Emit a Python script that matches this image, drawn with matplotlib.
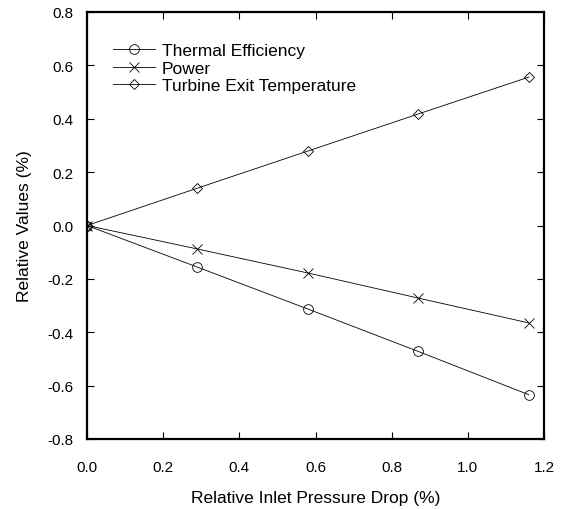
"""
Relative changes versus relative inlet pressure drop.
"""
import matplotlib
matplotlib.use("Agg")
from matplotlib import pyplot as plt

# Data
pressure_drop = [0.0, 0.29, 0.58, 0.87, 1.16]
thermal_efficiency = [0.0, -0.156, -0.313, -0.472, -0.634]
power = [0.0, -0.088, -0.178, -0.272, -0.365]
exit_temperature = [0.0, 0.14, 0.279, 0.418, 0.556]

x_ticks = [0.0, 0.2, 0.4, 0.6, 0.8, 1.0, 1.2]
y_ticks = [0.8, 0.6, 0.4, 0.2, 0.0, -0.2, -0.4, -0.6, -0.8]

plt.rcParams['font.family'] = ['Liberation Sans', 'DejaVu Sans']

fig = plt.figure(figsize=(5.67, 5.10), dpi=100)
ax = fig.add_axes([87 / 567, 1 - 440 / 510, (544 - 87) / 567, (440 - 13) / 510])

line_kw = dict(color='black', linewidth=0.6, markersize=7, markerfacecolor='none',
               markeredgewidth=0.6)
ax.plot(pressure_drop, thermal_efficiency, marker='o', label='Thermal Efficiency', **line_kw)
ax.plot(pressure_drop, power, marker='x', label='Power', **line_kw)
ax.plot(pressure_drop, exit_temperature, marker='D', label='Turbine Exit Temperature',
        **dict(line_kw, markersize=5.5))

ax.set_xlim(0, 1.2)
ax.set_ylim(-0.8, 0.8)
ax.set_xticks(x_ticks)
ax.set_xticklabels([f"{v:.1f}" for v in x_ticks])
ax.set_yticks(y_ticks)
ax.set_yticklabels([f"{v:.1f}" for v in y_ticks])

ax.tick_params(direction='in', length=5, width=0.8, top=True, right=True, labelsize=11)
ax.tick_params(axis='x', pad=15)
ax.tick_params(axis='y', pad=10)
for spine in ax.spines.values():
    spine.set_linewidth(1.6)

ax.set_xlabel('Relative Inlet Pressure Drop (%)', fontsize=12.5, labelpad=12)
ax.set_ylabel('Relative Values (%)', fontsize=12.5, labelpad=11)

ax.legend(loc='upper left', bbox_to_anchor=(0.057, 0.928), frameon=False, fontsize=12.5,
          handlelength=2.4, handletextpad=0.4, labelspacing=0.15, borderaxespad=0,
          borderpad=0)

fig.savefig('out.png', dpi=100)
